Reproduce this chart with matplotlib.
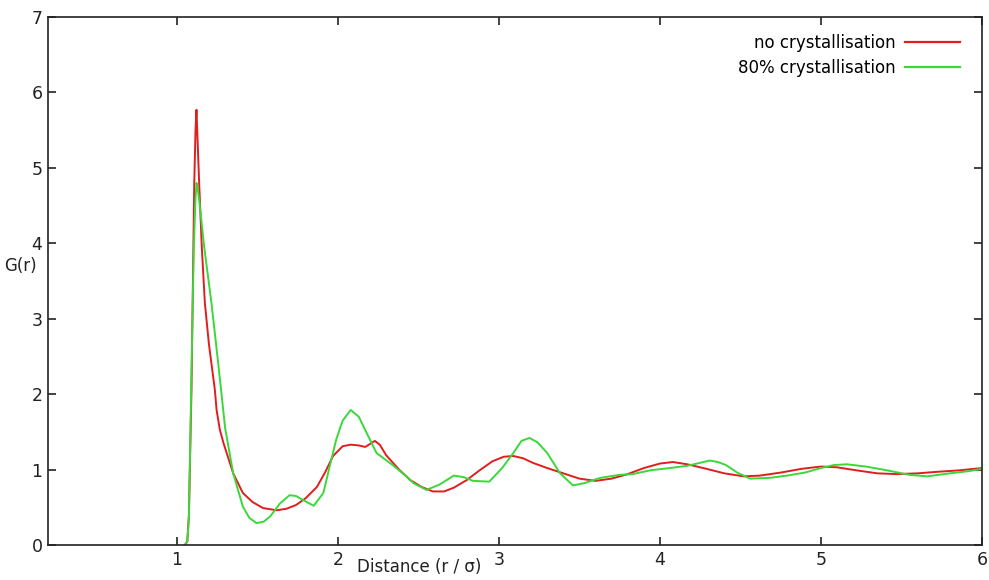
import numpy as np
import matplotlib.pyplot as plt
from matplotlib.lines import Line2D

# radial distribution function
r_no = [1.05, 1.065, 1.075, 1.091, 1.108, 1.116, 1.122, 1.13, 1.139, 1.155, 1.174, 1.20,
        1.236, 1.247, 1.267, 1.29, 1.35, 1.41, 1.47, 1.535, 1.62, 1.68, 1.74, 1.80, 1.87,
        1.92, 1.97, 2.03, 2.08, 2.13, 2.17, 2.20, 2.23, 2.26, 2.30, 2.38, 2.45, 2.52,
        2.59, 2.66, 2.72, 2.80, 2.88, 2.96, 3.03, 3.09, 3.15, 3.21, 3.30, 3.40, 3.50,
        3.60, 3.70, 3.80, 3.90, 4.00, 4.08, 4.17, 4.27, 4.40, 4.52, 4.62, 4.75, 4.88,
        5.00, 5.10, 5.22, 5.35, 5.47, 5.60, 5.72, 5.86, 6.0]
g_no = [0.0, 0.05, 0.4, 2.06, 4.78, 5.5, 5.77, 5.3, 4.78, 3.95, 3.21, 2.65,
        2.06, 1.79, 1.53, 1.35, 0.95, 0.69, 0.57, 0.49, 0.46, 0.48, 0.53, 0.62, 0.77,
        0.96, 1.18, 1.31, 1.33, 1.32, 1.30, 1.34, 1.38, 1.33, 1.19, 1.00, 0.86, 0.77,
        0.71, 0.71, 0.76, 0.86, 0.99, 1.11, 1.17, 1.18, 1.15, 1.09, 1.02, 0.95, 0.88,
        0.85, 0.88, 0.94, 1.02, 1.08, 1.10, 1.07, 1.02, 0.95, 0.91, 0.92, 0.96, 1.01,
        1.04, 1.03, 0.99, 0.95, 0.94, 0.95, 0.97, 0.99, 1.02]

r_80 = [1.05, 1.065, 1.075, 1.089, 1.105, 1.115, 1.122, 1.13, 1.14, 1.17, 1.215, 1.26,
        1.30, 1.35, 1.41, 1.45, 1.495, 1.54, 1.58, 1.64, 1.70, 1.74, 1.78, 1.85, 1.91,
        1.95, 1.99, 2.03, 2.08, 2.13, 2.18, 2.24, 2.34, 2.42, 2.47, 2.55, 2.63, 2.72,
        2.78, 2.84, 2.94, 3.02, 3.09, 3.14, 3.19, 3.24, 3.30, 3.38, 3.46, 3.53, 3.63,
        3.75, 3.83, 3.94, 4.06, 4.17, 4.25, 4.31, 4.36, 4.41, 4.48, 4.56, 4.68, 4.79,
        4.90, 5.00, 5.08, 5.16, 5.28, 5.41, 5.55, 5.66, 5.80, 5.92, 6.0]
g_80 = [0.0, 0.05, 0.35, 2.06, 3.9, 4.55, 4.80, 4.72, 4.55, 3.95, 3.21, 2.35,
        1.55, 0.95, 0.51, 0.36, 0.29, 0.31, 0.38, 0.55, 0.66, 0.65, 0.60, 0.52, 0.69,
        1.05, 1.40, 1.65, 1.79, 1.70, 1.48, 1.22, 1.06, 0.92, 0.82, 0.73, 0.80, 0.92,
        0.90, 0.85, 0.84, 1.02, 1.22, 1.38, 1.42, 1.36, 1.22, 0.95, 0.79, 0.82, 0.89,
        0.93, 0.94, 0.99, 1.02, 1.05, 1.09, 1.12, 1.10, 1.06, 0.96, 0.88, 0.89, 0.92,
        0.96, 1.02, 1.06, 1.07, 1.04, 0.99, 0.93, 0.91, 0.95, 0.98, 1.01]

labels = ["no crystallisation", "80% crystallisation"]
colors = ["#e01e1e", "#3ad83a"]

fig = plt.figure(figsize=(9.89, 5.80), dpi=100)
ax = fig.add_axes([48/989, 35/580, (982-48)/989, (545-17)/580])

ax.plot(r_no, g_no, color=colors[0], lw=1.4)
ax.plot(r_80, g_80, color=colors[1], lw=1.4)

ax.set_xlim(0.2, 6)
ax.set_ylim(0, 7)
ax.set_xticks([1, 2, 3, 4, 5, 6])
ax.set_yticks(range(8))
ax.tick_params(direction='in', top=True, right=True, length=6, width=1.2,
               labelsize=12.5, colors='#222222', pad=4)
for s in ax.spines.values():
    s.set_linewidth(1.2)
    s.set_color('#222222')

handles = [Line2D([], [], color=c, lw=1.6) for c in colors]
ax.legend(handles, labels, loc='upper right', bbox_to_anchor=(0.993, 0.997),
          markerfirst=False, frameon=False, fontsize=12, handlelength=3.3,
          handletextpad=0.6, labelspacing=0.45)

fig.text(20/989, 1 - 266/580, "G(r)", ha='center', va='center', fontsize=12, color='#222222')
fig.text(419/989, 1 - 567/580, "Distance (r / σ)", ha='center', va='center',
         fontsize=12, color='#222222')

fig.savefig("out.png", dpi=100)
